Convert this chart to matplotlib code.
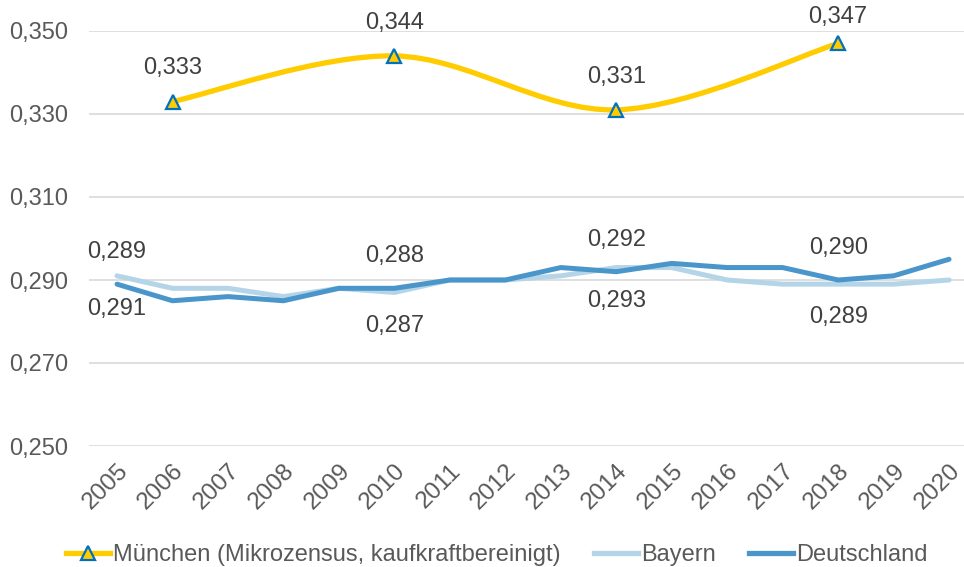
import matplotlib
matplotlib.use("Agg")
import matplotlib.pyplot as plt
import numpy as np
from matplotlib.path import Path
from matplotlib.patches import PathPatch
from matplotlib.lines import Line2D

YEARS = [str(y) for y in range(2005, 2021)]
MUC_YEARS = ["2006", "2010", "2014", "2018"]
MUC_VALUES = [0.333, 0.344, 0.331, 0.347]
BAYERN = [0.291, 0.288, 0.288, 0.286, 0.288, 0.287, 0.290, 0.290,
          0.291, 0.293, 0.293, 0.290, 0.289, 0.289, 0.289, 0.290]
DEUTSCHLAND = [0.289, 0.285, 0.286, 0.285, 0.288, 0.288, 0.290, 0.290,
               0.293, 0.292, 0.294, 0.293, 0.293, 0.290, 0.291, 0.295]
LABEL_YEARS = ["2005", "2010", "2014", "2018"]
Y_TICKS = [0.250, 0.270, 0.290, 0.310, 0.330, 0.350]

COLOR_MUC = "#FFCC00"
COLOR_MARKER_EDGE = "#0070C0"
COLOR_BAYERN = "#B4D4E8"
COLOR_DE = "#4A96CB"
COLOR_GRID = "#D9D9D9"
COLOR_TICK = "#595959"
COLOR_LABEL = "#404040"

plt.rcParams.update({
    "font.family": ["Liberation Sans", "DejaVu Sans"],
    "font.size": 17,
})


def fmt(v):
    return f"{v:.3f}".replace(".", ",")


def smooth_path(xs, ys):
    # Catmull-Rom style bezier, like a spreadsheet "smoothed line"
    pts = np.column_stack([xs, ys]).astype(float)
    n = len(pts)
    verts = [pts[0]]
    codes = [Path.MOVETO]
    for i in range(n - 1):
        p_prev = pts[i - 1] if i > 0 else pts[i]
        p_next2 = pts[i + 2] if i + 2 < n else pts[i + 1]
        c1 = pts[i] + (pts[i + 1] - p_prev) / 6
        c2 = pts[i + 1] - (p_next2 - pts[i]) / 6
        verts += [c1, c2, pts[i + 1]]
        codes += [Path.CURVE4] * 3
    return Path(verts, codes)


fig = plt.figure(figsize=(9.64, 5.67), dpi=100)
ax = fig.add_axes([89.3 / 964, 121 / 567, 887.5 / 964, 415 / 567])

x_all = np.arange(len(YEARS))
x_muc = np.array([YEARS.index(y) for y in MUC_YEARS])

ax.plot(x_all, BAYERN, color=COLOR_BAYERN, lw=3.6, solid_capstyle="round",
        solid_joinstyle="round", zorder=3)
ax.plot(x_all, DEUTSCHLAND, color=COLOR_DE, lw=3.6, solid_capstyle="round",
        solid_joinstyle="round", zorder=4)

ax.add_patch(PathPatch(smooth_path(x_muc, MUC_VALUES), facecolor="none",
                       edgecolor=COLOR_MUC, lw=3.8, capstyle="round", zorder=5))
ax.plot(x_muc, MUC_VALUES, ls="none", marker="^", ms=10, mfc=COLOR_MUC,
        mec=COLOR_MARKER_EDGE, mew=1.6, zorder=6)

# label above each point; the top one is pushed down to stay inside the chart
for x, v in zip(x_muc, MUC_VALUES):
    dy = 24 if v < 0.345 else 19
    ax.annotate(fmt(v), (x, v), xytext=(0, dy), textcoords="offset points",
                ha="center", va="center", color=COLOR_LABEL, zorder=7)

for year in LABEL_YEARS:
    i = YEARS.index(year)
    ax.annotate(fmt(DEUTSCHLAND[i]), (i, DEUTSCHLAND[i]), xytext=(0, 23),
                textcoords="offset points", ha="center", va="center",
                color=COLOR_LABEL, zorder=7)
    ax.annotate(fmt(BAYERN[i]), (i, BAYERN[i]), xytext=(0, -24),
                textcoords="offset points", ha="center", va="center",
                color=COLOR_LABEL, zorder=7)

ax.set_xlim(-0.5, len(YEARS) - 0.5)
ax.set_ylim(0.250, 0.350)
ax.set_yticks(Y_TICKS)
ax.set_yticklabels([fmt(v) for v in Y_TICKS])
ax.set_xticks(x_all)
ax.set_xticklabels(YEARS, rotation=45, ha="right", rotation_mode="anchor",
                   fontsize=17.5)
ax.tick_params(axis="y", length=0, pad=15, colors=COLOR_TICK)
ax.tick_params(axis="x", length=0, pad=10, colors=COLOR_TICK)
for s in ax.spines.values():
    s.set_visible(False)
ax.grid(axis="y", color=COLOR_GRID, lw=1.2)
ax.set_axisbelow(True)

handles = [
    Line2D([], [], color=COLOR_MUC, lw=3.8, marker="^", ms=10, mfc=COLOR_MUC,
           mec=COLOR_MARKER_EDGE, mew=1.6),
    Line2D([], [], color=COLOR_BAYERN, lw=3.8),
    Line2D([], [], color=COLOR_DE, lw=3.8),
]
labels = ["München (Mikrozensus, kaufkraftbereinigt)", "Bayern", "Deutschland"]
fig.legend(handles, labels, loc="lower center", bbox_to_anchor=(0.515, -0.036),
           ncol=3, frameon=False, handlelength=1.9, handletextpad=0.1,
           columnspacing=1.4, labelcolor=COLOR_TICK)

fig.savefig("out.png", dpi=100)
